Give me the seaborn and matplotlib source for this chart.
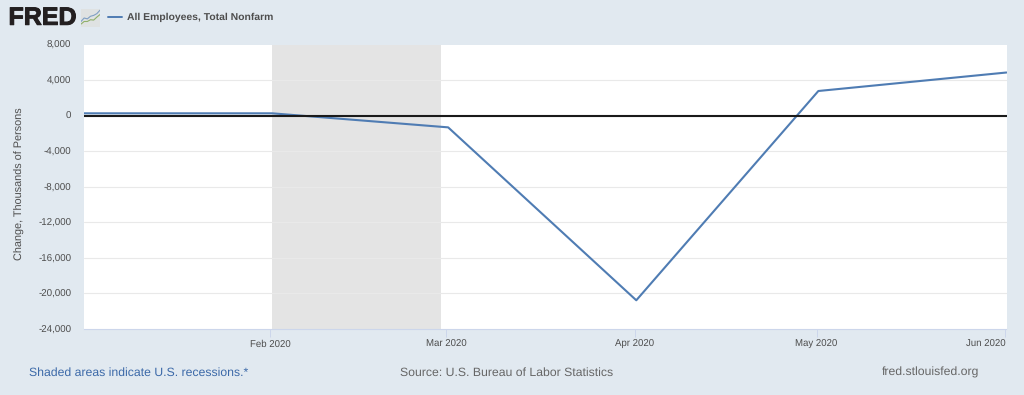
import seaborn as sns
import matplotlib.pyplot as plt
import matplotlib.patheffects as pe
from matplotlib.transforms import ScaledTranslation
import pandas as pd

dates = ['2020-01-01', '2020-02-01', '2020-03-01', '2020-04-01', '2020-05-01', '2020-06-01']
change = [260, 260, -1320, -20770, 2770, 4850]
recession_start = '2020-02-01 00:00'
recession_end = '2020-02-28 20:00'
y_ticks = [8000, 4000, 0, -4000, -8000, -12000, -16000, -20000, -24000]
# FRED draws its ticks a little before the data points
x_ticks = ['2020-01-31 17:00', '2020-02-29 17:00', '2020-03-31 17:00', '2020-04-30 17:00', '2020-05-31 17:00']
x_labels = ['Feb 2020', 'Mar 2020', 'Apr 2020', 'May 2020', 'Jun 2020']
series_name = 'All Employees, Total Nonfarm'
# little chart in the logo
icon_x = [0, 1, 2, 3, 4, 5, 6]
icon_blue = [3, 5, 4.5, 6, 6.5, 7.5, 9.5]
icon_green = [1.5, 3, 3, 4, 3.8, 5.5, 7]

sns.set_theme(style='white')
plt.rcParams['font.family'] = ['Liberation Sans', 'DejaVu Sans']
plt.rcParams['text.hinting'] = 'no_hinting'

bg = '#e1e9f0'
line_color = '#4f7cb3'
text_color = '#4d4d4d'
df = pd.DataFrame({'date': pd.to_datetime(dates), 'change': change})

W, H = 1024, 395
fig = plt.figure(figsize=(W / 100, H / 100), dpi=100, facecolor=bg)
ax = fig.add_axes([84 / W, 1 - 329 / H, (1006.5 - 84) / W, (329 - 44.5) / H])

ax.axvspan(pd.Timestamp(recession_start), pd.Timestamp(recession_end), color='#e4e4e4', lw=0, zorder=0)
for v in y_ticks[1:-1]:
    ax.axhline(v, color='#e9e9e9', lw=0.8, zorder=1)
sns.lineplot(data=df, x='date', y='change', color=line_color, lw=1.5, ax=ax, zorder=3)
ax.axhline(0, color='#1a1a1a', lw=1.5, zorder=4)

ax.set_xlim(pd.Timestamp('2020-01-01'), pd.Timestamp('2020-06-01'))
ax.set_ylim(-24000, 8000)
ax.set_yticks(y_ticks)
ax.set_yticklabels([f'{v:,}' for v in y_ticks], fontsize=7, color=text_color)
ax.set_xticks(pd.to_datetime(x_ticks))
ax.set_xticklabels(x_labels, fontsize=6.9, color=text_color)
ax.tick_params(axis='y', length=0, pad=9.2)
ax.tick_params(axis='x', length=5.8, width=0.7, color='#ccd6eb', pad=2, bottom=True)
# last label is pulled inside the plot edge
last = ax.get_xticklabels()[-1]
last.set_ha('right')
last.set_transform(last.get_transform() + ScaledTranslation(1.4 / 100, 0, fig.dpi_scale_trans))
ax.set_xlabel('')
ax.set_ylabel('Change, Thousands of Persons', fontsize=7.85, color=text_color, va='center')
ax.yaxis.set_label_coords((20 - 84) / (1006.5 - 84), 0.51)
for side in ['top', 'right', 'left']:
    ax.spines[side].set_visible(False)
ax.spines['bottom'].set_color('#ccd6eb')
ax.spines['bottom'].set_linewidth(0.8)

# header
fig.text(8.5 / W, 1 - 18.3 / H, 'FRED', fontsize=18, fontweight='bold', color='#231f20', va='center', ha='left',
         path_effects=[pe.withStroke(linewidth=0.7, foreground='#231f20')])
icon = fig.add_axes([81 / W, 1 - 26.7 / H, 19 / W, 17.4 / H], facecolor='#dfe2e2')
sns.lineplot(x=icon_x, y=icon_blue, color='#7f9fc4', lw=0.8, ax=icon)
sns.lineplot(x=icon_x, y=icon_green, color='#8fb06a', lw=0.8, ax=icon)
icon.set_xlim(0, 6)
icon.set_ylim(0, 10)
icon.set_xticks([])
icon.set_yticks([])
for s in icon.spines.values():
    s.set_visible(False)
fig.add_artist(plt.Line2D([108 / W, 122 / W], [1 - 17.3 / H] * 2, color=line_color, lw=1.4))
fig.text(126.7 / W, 1 - 17.3 / H, series_name, fontsize=7.5, fontweight='bold', color=text_color, va='center', ha='left')

# footer
fig.text(29 / W, 1 - 372.7 / H, 'Shaded areas indicate U.S. recessions.*', fontsize=8.8, color='#3b69a8', va='center', ha='left')
fig.text(400.4 / W, 1 - 372.7 / H, 'Source: U.S. Bureau of Labor Statistics', fontsize=8.8, color='#666666', va='center', ha='left')
fig.text(979.3 / W, 1 - 372.7 / H, 'fred.stlouisfed.org', fontsize=8.8, color='#666666', va='center', ha='right')

fig.savefig('out.png', dpi=100, facecolor=bg)
